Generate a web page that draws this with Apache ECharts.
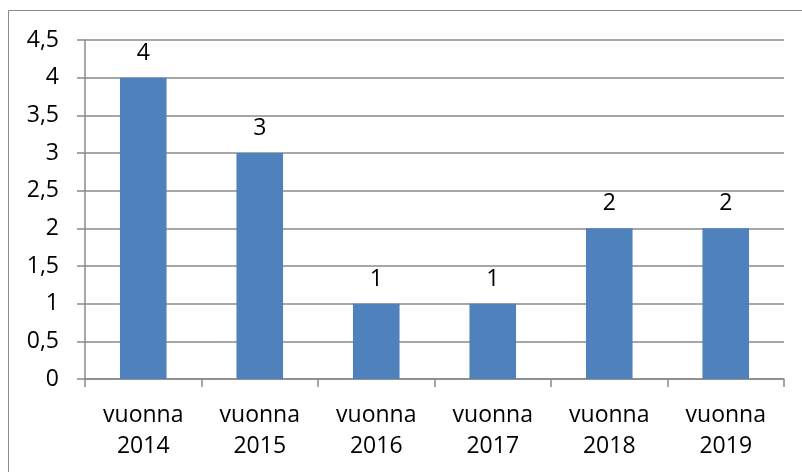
<!DOCTYPE html>
<html>
<head>
<meta charset="utf-8">
<script src="https://cdn.jsdelivr.net/npm/echarts@6/dist/echarts.min.js"></script>
<style>html,body{margin:0;padding:0;background:#fff}#c{width:802px;height:472px}</style>
</head>
<body>
<div id="c"></div>
<script>
const categories = ["vuonna\n2014", "vuonna\n2015", "vuonna\n2016", "vuonna\n2017", "vuonna\n2018", "vuonna\n2019"];
const values = [4, 3, 1, 1, 2, 2];
const yTicks = { min: 0, max: 4.5, interval: 0.5 };

const chart = echarts.init(document.getElementById('c'), null, { renderer: 'canvas' });
const font = 'Open Sans';
chart.setOption({
  animation: false,
  backgroundColor: '#fff',
  textStyle: { fontFamily: font },
  graphic: [{
    type: 'rect', silent: true,
    shape: { x: 8.5, y: 10.5, width: 900, height: 600 },
    style: { fill: 'none', stroke: '#8a8a8a', lineWidth: 1 }
  }],
  grid: { left: 85, right: 18, top: 40, bottom: 93, containLabel: false },
  xAxis: {
    type: 'category',
    data: categories,
    axisLine: { show: true, lineStyle: { color: '#8a8a8a', width: 1.5 } },
    axisTick: { show: true, length: 8, alignWithLabel: false, lineStyle: { color: '#8a8a8a', width: 1.5 } },
    axisLabel: { color: '#000', fontSize: 23, fontFamily: font, lineHeight: 31, margin: 21, interval: 0 },
    splitLine: { show: false }
  },
  yAxis: {
    type: 'value',
    min: yTicks.min, max: yTicks.max, interval: yTicks.interval,
    axisLine: { show: true, lineStyle: { color: '#8a8a8a', width: 1.5 } },
    axisTick: { show: true, length: 8, lineStyle: { color: '#8a8a8a', width: 1.5 } },
    axisLabel: {
      color: '#000', fontSize: 23, fontFamily: font, margin: 26,
      formatter: v => String(Math.round(v * 10) / 10).replace('.', ',')
    },
    splitLine: { show: true, lineStyle: { color: '#8a8a8a', width: 1.5 } }
  },
  series: [{
    type: 'bar',
    data: values,
    barWidth: '40%',
    itemStyle: { color: '#4F81BD' },
    label: { show: true, position: 'top', distance: 13, color: '#000', fontSize: 23, fontFamily: font }
  }]
});
</script>
</body>
</html>
